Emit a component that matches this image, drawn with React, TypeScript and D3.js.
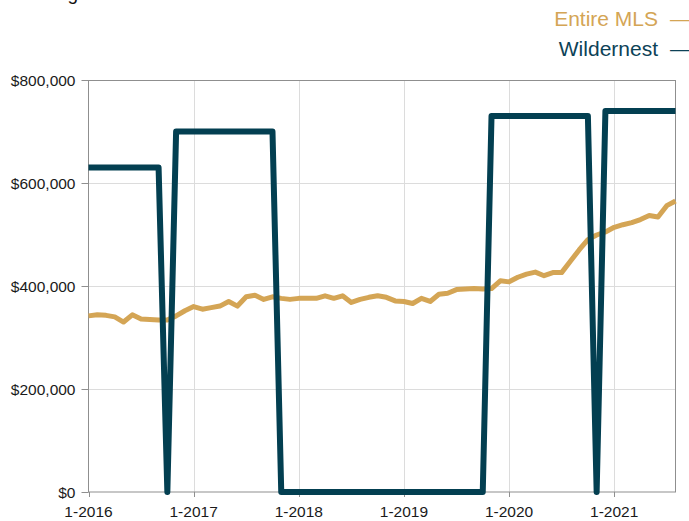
import { useEffect, useRef } from 'react';
import * as d3 from 'd3';

// monthly, 1-2016 .. 8-2021
const START_YEAR = 2016;
const MONTH_COUNT = 68;

const entireMls = [
  342, 344, 343, 340, 330, 344, 336, 335, 334, 334, 342, 352,
  360, 355, 358, 361, 370, 361, 379, 382, 374, 379, 376, 374,
  376, 376, 376, 381, 376, 381, 368, 374, 378, 381, 378, 371,
  370, 366, 376, 370, 384, 386, 393, 394, 395, 394, 395, 410,
  408, 417, 423, 427, 420, 426, 426, 448, 470, 490, 499, 505,
  514, 519, 523, 529, 537, 534, 556, 565,
].map((v) => v * 1000);

const wildernest = [
  630, 630, 630, 630, 630, 630, 630, 630, 630, 0, 700, 700,
  700, 700, 700, 700, 700, 700, 700, 700, 700, 700, 0, 0,
  0, 0, 0, 0, 0, 0, 0, 0, 0, 0, 0, 0,
  0, 0, 0, 0, 0, 0, 0, 0, 0, 0, 730, 730,
  730, 730, 730, 730, 730, 730, 730, 730, 730, 730, 0, 740,
  740, 740, 740, 740, 740, 740, 740, 740,
].map((v) => v * 1000);

const yTicks = [0, 200000, 400000, 600000, 800000];
const xTicks = [0, 12, 24, 36, 48, 60];

const W = 689;
const H = 521;
const MARGIN = { top: 80, right: 13.5, bottom: 29, left: 88.5 };
const FONT = '"Liberation Sans", Arial, Helvetica, sans-serif';
const GOLD = '#d4a555';
const TEAL = '#033f51';

export default function App() {
  const svgRef = useRef<SVGSVGElement>(null);

  useEffect(() => {
    if (!svgRef.current) return;
    const svg = d3.select(svgRef.current);
    svg.selectAll('*').remove();

    const x = d3
      .scaleLinear()
      .domain([0, MONTH_COUNT - 1])
      .range([MARGIN.left, W - MARGIN.right]);
    const y = d3
      .scaleLinear()
      .domain([0, 800000])
      .range([H - MARGIN.bottom, MARGIN.top]);

    const x0 = MARGIN.left;
    const x1 = W - MARGIN.right;
    const y0 = H - MARGIN.bottom;
    const y1 = MARGIN.top;

    // title (cut off at the top edge)
    svg
      .append('text')
      .attr('x', 20)
      .attr('y', 0)
      .attr('font-family', FONT)
      .attr('font-size', 19)
      .attr('fill', '#111')
      .text('Rolling 12-Month Median Price');

    // grid
    const grid = svg.append('g');
    grid
      .selectAll('line.h')
      .data(yTicks.slice(1, -1))
      .join('line')
      .attr('x1', x0)
      .attr('x2', x1)
      .attr('y1', (d) => Math.round(y(d)) + 0.5)
      .attr('y2', (d) => Math.round(y(d)) + 0.5)
      .attr('stroke', '#dcdcdc');
    grid
      .selectAll('line.v')
      .data(xTicks.slice(1))
      .join('line')
      .attr('x1', (d) => Math.round(x(d)) + 0.5)
      .attr('x2', (d) => Math.round(x(d)) + 0.5)
      .attr('y1', y1)
      .attr('y2', y0)
      .attr('stroke', '#dcdcdc');

    // frame
    svg
      .append('rect')
      .attr('x', x0)
      .attr('y', y1 + 0.5)
      .attr('width', x1 - x0)
      .attr('height', y0 - y1 - 0.5)
      .attr('fill', 'none')
      .attr('stroke', '#8f8f8f');

    // y ticks + labels
    const yAxis = svg.append('g');
    yAxis
      .selectAll('line')
      .data(yTicks)
      .join('line')
      .attr('x1', x0 - 7)
      .attr('x2', x0)
      .attr('y1', (d) => Math.round(y(d)) + 0.5)
      .attr('y2', (d) => Math.round(y(d)) + 0.5)
      .attr('stroke', '#8f8f8f');
    yAxis
      .selectAll('text')
      .data(yTicks)
      .join('text')
      .attr('x', x0 - 13)
      .attr('y', (d) => y(d) + 5.5)
      .attr('text-anchor', 'end')
      .attr('font-family', FONT)
      .attr('font-size', 15.5)
      .attr('fill', '#1a1a1a')
      .text((d) => d3.format('$,')(d));

    // x ticks + labels
    const xAxis = svg.append('g');
    xAxis
      .selectAll('line')
      .data(xTicks)
      .join('line')
      .attr('x1', (d) => Math.round(x(d)) + 0.5)
      .attr('x2', (d) => Math.round(x(d)) + 0.5)
      .attr('y1', y0)
      .attr('y2', y0 + 5)
      .attr('stroke', '#8f8f8f');
    xAxis
      .selectAll('text')
      .data(xTicks)
      .join('text')
      .attr('x', (d) => x(d))
      .attr('y', y0 + 25)
      .attr('text-anchor', 'middle')
      .attr('font-family', FONT)
      .attr('font-size', 15.5)
      .attr('fill', '#1a1a1a')
      .text((d) => `1-${START_YEAR + d / 12}`);

    const line = d3
      .line<number>()
      .x((_, i) => x(i))
      .y((d) => y(d));

    svg
      .append('path')
      .attr('d', line(entireMls))
      .attr('fill', 'none')
      .attr('stroke', GOLD)
      .attr('stroke-width', 5)
      .attr('stroke-linejoin', 'round');

    svg
      .append('path')
      .attr('d', line(wildernest))
      .attr('fill', 'none')
      .attr('stroke', TEAL)
      .attr('stroke-width', 6)
      .attr('stroke-linejoin', 'round');

    // legend
    const legend = [
      { name: 'Entire MLS', color: GOLD, y: 26 },
      { name: 'Wildernest', color: '#0c4257', y: 56 },
    ];
    const lg = svg.append('g').attr('font-family', FONT).attr('font-size', 21);
    legend.forEach((l) => {
      lg.append('text')
        .attr('x', 658)
        .attr('y', l.y)
        .attr('text-anchor', 'end')
        .attr('fill', l.color)
        .text(l.name);
      lg.append('text')
        .attr('x', 670)
        .attr('y', l.y)
        .attr('fill', l.color)
        .text('—');
    });
  }, []);

  return (
    <svg
      ref={svgRef}
      width={W}
      height={H}
      style={{ position: 'absolute', left: 0, top: 0, background: '#fff' }}
    />
  );
}
